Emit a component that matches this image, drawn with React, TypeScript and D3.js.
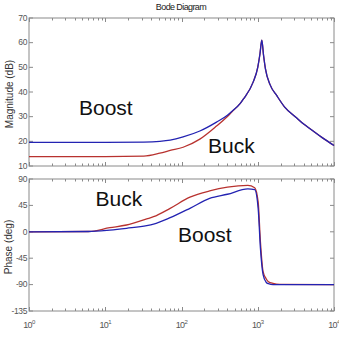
import * as d3 from 'd3';

const title = 'Bode Diagram';

// magnitude (dB) vs frequency
const magFreq = [1, 10, 32, 52, 71, 105, 174, 288, 400, 460, 590, 650, 870, 1000, 1070, 1130, 1190, 1260, 1450, 1780, 2240, 3160, 4000, 5000, 7000, 10000];
const magBlue = [19.6, 19.6, 19.7, 20.0, 20.5, 21.8, 24.2, 27.8, 30.6, 32.2, 35.4, 37.2, 44.0, 50.0, 55.5, 61.0, 55.0, 49.5, 43.0, 38.5, 34.0, 29.8, 27.0, 24.8, 21.5, 18.3];
const magRed = [13.8, 13.8, 14.0, 15.2, 16.3, 17.6, 20.9, 26.2, 30.1, 32.0, 35.4, 37.2, 44.0, 50.0, 55.5, 61.0, 55.0, 49.5, 43.0, 38.5, 34.0, 29.8, 27.0, 24.8, 21.5, 18.3];

// phase (deg) vs frequency
const phaseFreq = [1, 6, 11.5, 19, 35, 43, 71, 129, 234, 400, 741, 912, 1012, 1084, 1175, 1288, 1380, 1585, 1950, 10000];
const phaseBlue = [0, 0.5, 3, 6, 10.4, 13, 24, 40, 57, 64, 73, 72, 40, -28, -73, -86, -88.5, -90, -90, -90];
const phaseRed = [0, 0.5, 7, 11.6, 22, 25.7, 40, 59, 69.6, 76, 79, 75, 51, -17, -68, -80, -85, -88, -89.5, -90];

const magTicks = [10, 20, 30, 40, 50, 60, 70];
const phaseTicks = [-135, -90, -45, 0, 45, 90];
const decades = [0, 1, 2, 3, 4];

const RED = '#b8322f';
const BLUE = '#2323b2';
const AXIS = '#8a8a8a';
const LABEL = '#555';

const W = 339;
const H = 338;
const left = 29;
const right = 334;

export default function App() {
  const x = d3.scaleLog().domain([1, 10000]).range([left, right]);
  const yMag = d3.scaleLinear().domain([10, 70]).range([166, 18]);
  const yPh = d3.scaleLinear().domain([-135, 90]).range([311, 179]);

  const allTicks = x.ticks();
  const isMajor = (v: number) => Math.abs(Math.log10(v) - Math.round(Math.log10(v))) < 1e-9;

  const mkLine = (freq: number[], y: d3.ScaleLinear<number, number>) =>
    d3
      .line<number>()
      .x((_, i) => x(freq[i]))
      .y((d) => y(d))
      .curve(d3.curveMonotoneX);

  const magLine = mkLine(magFreq, yMag);
  const phLine = mkLine(phaseFreq, yPh);

  const panel = (y: d3.ScaleLinear<number, number>, ticks: number[]) => {
    const [bottom, top] = y.range();
    return (
      <g>
        <rect x={left} y={top} width={right - left} height={bottom - top} fill="white" stroke={AXIS} strokeWidth={1} />
        {allTicks.map((t) => {
          const len = isMajor(t) ? 4 : 2.5;
          const px = Math.round(x(t)) + 0.5;
          return (
            <g key={t} stroke={AXIS} strokeWidth={1}>
              <line x1={px} x2={px} y1={bottom} y2={bottom - len} />
              <line x1={px} x2={px} y1={top} y2={top + len} />
            </g>
          );
        })}
        {ticks.map((t) => (
          <g key={t}>
            <line x1={left} x2={left + 4} y1={y(t)} y2={y(t)} stroke={AXIS} />
            <line x1={right - 4} x2={right} y1={y(t)} y2={y(t)} stroke={AXIS} />
            <text x={left - 2} y={y(t)} dy="0.33em" textAnchor="end" fontSize={8.5} fill={LABEL} letterSpacing={-0.4}>
              {t}
            </text>
          </g>
        ))}
      </g>
    );
  };

  return (
    <svg width={W} height={H} style={{ position: 'absolute', left: 0, top: 0 }} fontFamily="Liberation Sans, Arial, sans-serif">
      <rect width={W} height={H} fill="white" />
      <text x={181} y={9.5} textAnchor="middle" fontSize={9} fill="#222" letterSpacing={-0.6}>
        {title}
      </text>

      {panel(yMag, magTicks)}
      {panel(yPh, phaseTicks)}

      <path d={magLine(magRed) ?? ''} fill="none" stroke={RED} strokeWidth={1.3} />
      <path d={magLine(magBlue) ?? ''} fill="none" stroke={BLUE} strokeWidth={1.3} />
      <path d={phLine(phaseRed) ?? ''} fill="none" stroke={RED} strokeWidth={1.3} />
      <path d={phLine(phaseBlue) ?? ''} fill="none" stroke={BLUE} strokeWidth={1.3} />

      <text transform="translate(12.5,94) rotate(-90)" textAnchor="middle" fontSize={10} fill="#333">
        Magnitude (dB)
      </text>
      <text transform="translate(11.5,247) rotate(-90)" textAnchor="middle" fontSize={10} fill="#333">
        Phase (deg)
      </text>

      {decades.map((k) => (
        <text key={k} x={x(Math.pow(10, k))} y={328} textAnchor="middle" fontSize={9} fill={LABEL} letterSpacing={-0.6}>
          10
          <tspan dy={-4.5} fontSize={6}>
            {k}
          </tspan>
        </text>
      ))}

      <text x={79} y={115} fontSize={21} fill="#111">Boost</text>
      <text x={208} y={152.7} fontSize={21} fill="#111">Buck</text>
      <text x={95.5} y={205.7} fontSize={21} fill="#111">Buck</text>
      <text x={178} y={241.7} fontSize={21} fill="#111">Boost</text>
    </svg>
  );
}
